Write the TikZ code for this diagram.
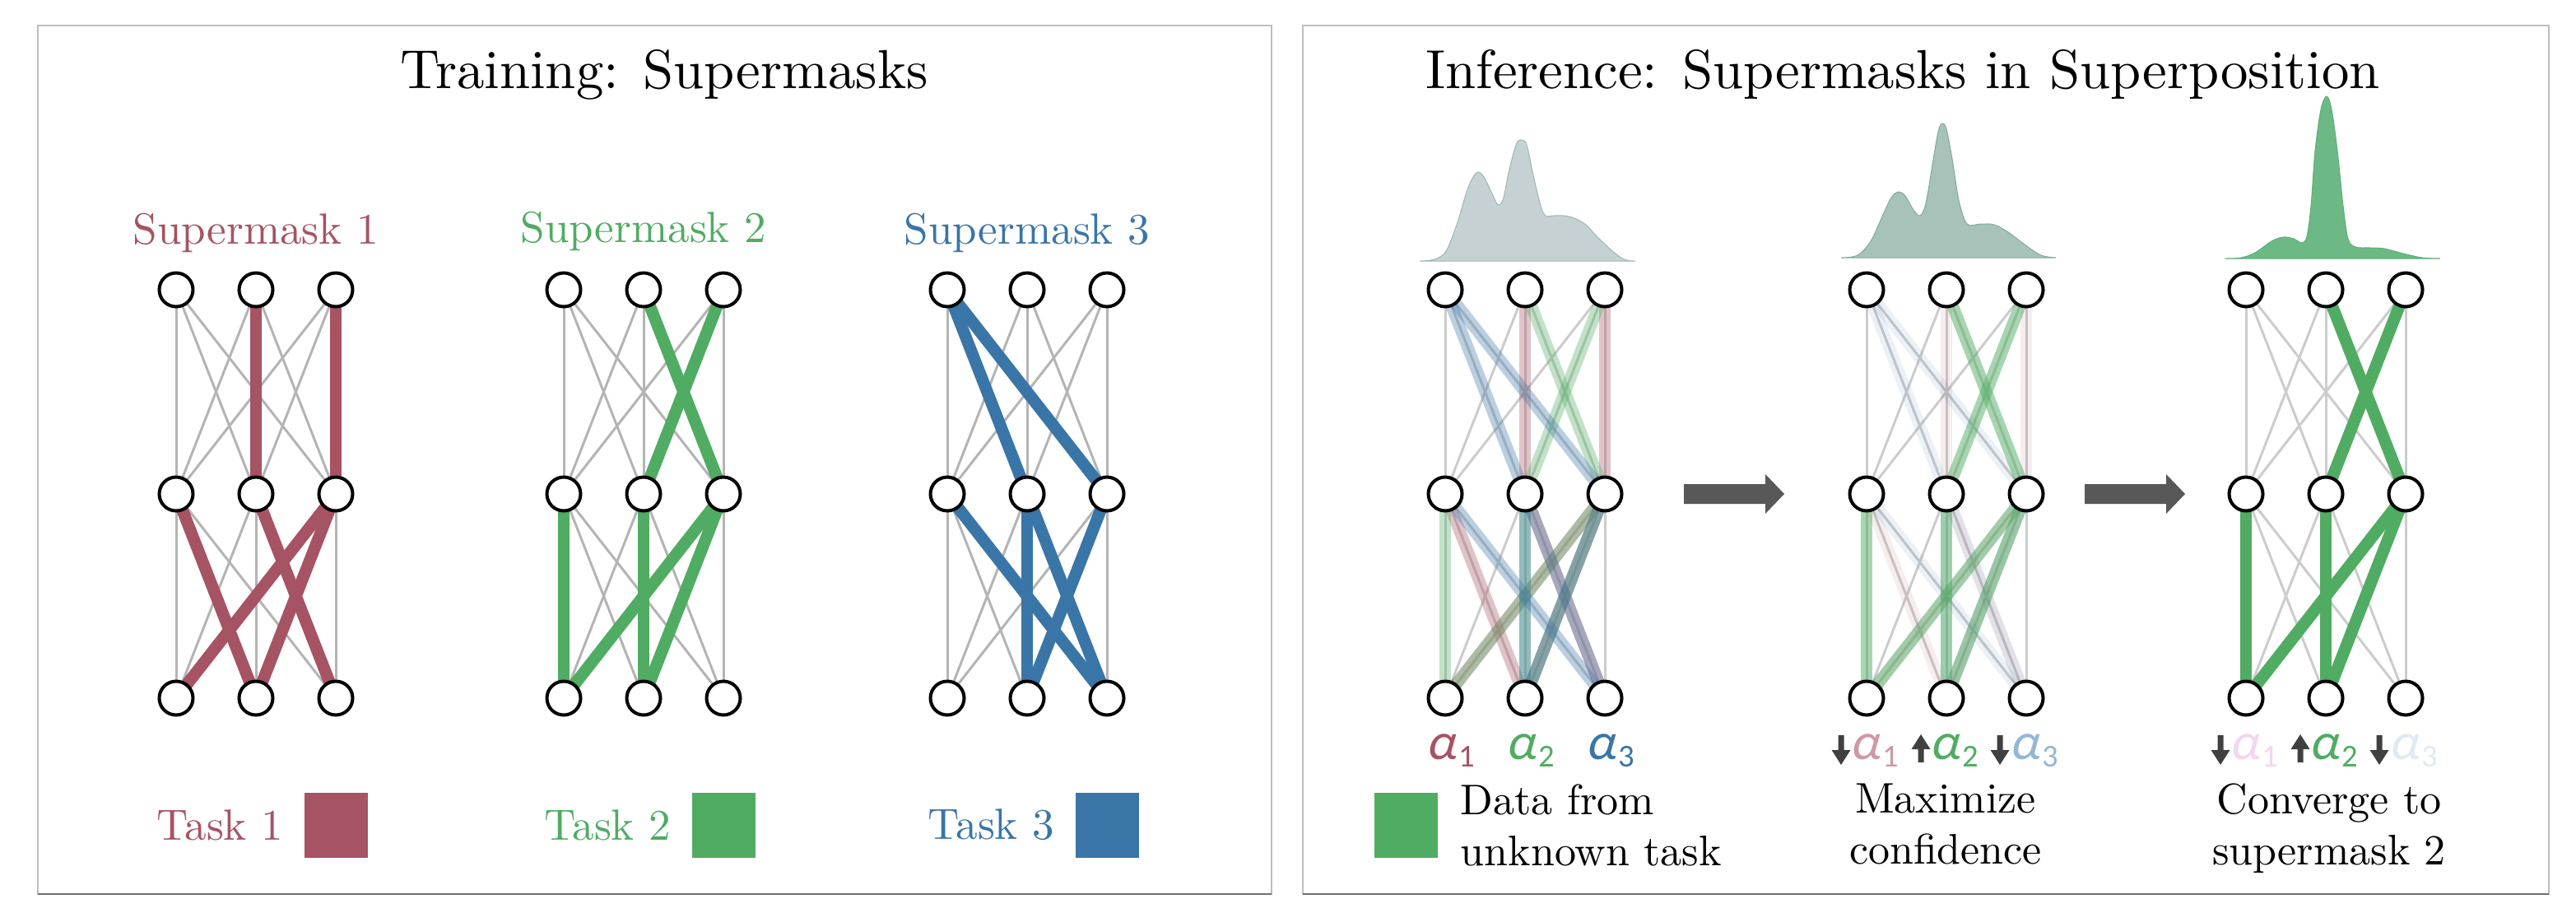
\documentclass[tikz,border=0pt]{standalone}
\usepackage{fontspec}
\setmainfont{lmroman10-regular.otf}
\newfontfamily\alphafont[FakeSlant=0.18]{Carlito}
\newfontfamily\subfont{Carlito}
\usetikzlibrary{positioning}
\usetikzlibrary{backgrounds}

\definecolor{maskred}{RGB}{166,83,99}
\definecolor{maskgreen}{RGB}{80,172,98}
\definecolor{maskblue}{RGB}{58,117,167}
\definecolor{fadered}{RGB}{206,152,164}
\definecolor{fadeblue}{RGB}{148,183,214}
\definecolor{palered}{RGB}{244,214,238}
\definecolor{paleblue}{RGB}{224,233,244}
\definecolor{edgegray}{RGB}{180,180,180}
\definecolor{edgelight}{RGB}{204,204,204}
\definecolor{boxgray}{RGB}{190,190,190}
\definecolor{boxdark}{RGB}{110,110,110}
\definecolor{arrowgray}{RGB}{88,88,88}
\definecolor{updowngray}{RGB}{64,64,64}
\definecolor{densa}{RGB}{197,209,210}
\definecolor{densaline}{RGB}{160,182,184}
\definecolor{densb}{RGB}{166,194,185}
\definecolor{densbline}{RGB}{130,170,155}
\definecolor{densc}{RGB}{108,185,134}
\definecolor{denscline}{RGB}{92,176,120}

% edges kept by each supermask
\newcommand{\maskone}{t2/m2, t3/m3, m1/b2, m2/b3, m3/b1, m3/b2}
\newcommand{\masktwo}{t2/m3, t3/m2, m1/b1, m2/b2, m3/b1, m3/b2}
\newcommand{\maskthree}{t1/m2, t1/m3, m1/b3, m2/b2, m2/b3, m3/b2}

\tikzset{
  neuron/.style={circle, draw=black, line width=0.04cm, fill=white, minimum size=0.41cm, inner sep=0pt},
  edge/.style={line width=0.03cm},
  maskedge/.style={line width=0.145cm},
  panel/.style={draw=boxgray, line width=0.02cm},
  title/.style={font=\fontsize{19}{23}\selectfont, inner sep=0pt},
  masklabel/.style={font=\fontsize{15.1}{18}\selectfont, inner sep=0pt},
  caption/.style={font=\fontsize{14.8}{17.6}\selectfont, align=center, inner sep=0pt},
  tasksq/.style={minimum width=0.77cm, minimum height=0.79cm, inner sep=0pt},
  alphalabel/.style={font=\alphafont\fontsize{18}{18}\selectfont, anchor=base, inner sep=0pt}
}

\begin{document}
\begin{tikzpicture}
  \useasboundingbox (0,0) rectangle (31.30,-11.08);

  % neurons
  \foreach \net/\x in {m1/2.14, m2/6.85, m3/11.51, ia/17.56, ib/22.68, ic/27.29} {
    \foreach \c in {1,2,3} {
      \node [neuron] (\net t\c) at ({\x+0.97*(\c-1)}, -3.52) {};
      \node [neuron] (\net m\c) at ({\x+0.97*(\c-1)}, -6.00) {};
      \node [neuron] (\net b\c) at ({\x+0.97*(\c-1)}, -8.48) {};
    }
  }

  \begin{scope}[on background layer]
    \draw [panel] (0.46,-0.31) rectangle (15.45,-10.86);
    \draw [panel] (15.83,-0.31) rectangle (30.97,-10.86);
    \draw [boxdark, line width=0.02cm] (0.46,-10.86) -- (15.45,-10.86);
    \draw [boxdark, line width=0.02cm] (15.83,-10.86) -- (30.97,-10.86);

    % all weights
    \foreach \net/\col in {m1/edgegray, m2/edgegray, m3/edgegray, ia/edgelight, ib/edgelight, ic/edgelight} {
      \foreach \i in {1,2,3} {
        \foreach \j in {1,2,3} {
          \draw [edge, \col] (\net t\i.center) -- (\net m\j.center);
          \draw [edge, \col] (\net m\i.center) -- (\net b\j.center);
        }
      }
    }

    % training: one supermask per task
    \foreach \a/\b in \maskone {\draw [maskedge, maskred] (m1\a.center) -- (m1\b.center);}
    \foreach \a/\b in \masktwo {\draw [maskedge, maskgreen] (m2\a.center) -- (m2\b.center);}
    \foreach \a/\b in \maskthree {\draw [maskedge, maskblue] (m3\a.center) -- (m3\b.center);}

    % inference: superposition
    \foreach \a/\b in \maskone {\draw [maskedge, maskred, opacity=0.35] (ia\a.center) -- (ia\b.center);}
    \foreach \a/\b in \masktwo {\draw [maskedge, maskgreen, opacity=0.35] (ia\a.center) -- (ia\b.center);}
    \foreach \a/\b in \maskthree {\draw [maskedge, maskblue, opacity=0.35] (ia\a.center) -- (ia\b.center);}

    \foreach \a/\b in \maskone {\draw [maskedge, maskred, opacity=0.1] (ib\a.center) -- (ib\b.center);}
    \foreach \a/\b in \maskthree {\draw [maskedge, maskblue, opacity=0.1] (ib\a.center) -- (ib\b.center);}
    \foreach \a/\b in \masktwo {\draw [maskedge, maskgreen, opacity=0.5] (ib\a.center) -- (ib\b.center);}

    \foreach \a/\b in \masktwo {\draw [maskedge, maskgreen] (ic\a.center) -- (ic\b.center);}
  \end{scope}

  % titles
  \node [title, anchor=base] (traintitle) at (8.07,-1.07) {Training: Supermasks};
  \node [title, anchor=base] (inftitle) at (23.12,-1.07) {Inference: Supermasks in Superposition};

  \node [masklabel, anchor=base, text=maskred] (sm1) at (3.11,-2.96) {Supermask 1};
  \node [masklabel, anchor=base, text=maskgreen] (sm2) at (7.82,-2.94) {Supermask 2};
  \node [masklabel, anchor=base, text=maskblue] (sm3) at (12.48,-2.96) {Supermask 3};

  % tasks
  \node [tasksq, fill=maskred] (sq1) at (4.08,-10.02) {};
  \node [tasksq, fill=maskgreen] (sq2) at (8.79,-10.02) {};
  \node [tasksq, fill=maskblue] (sq3) at (13.45,-10.02) {};
  \node [masklabel, text=maskred, left=0.24cm of sq1] (task1) {Task 1};
  \node [masklabel, text=maskgreen, left=0.24cm of sq2] (task2) {Task 2};
  \node [masklabel, text=maskblue, left=0.24cm of sq3] (task3) {Task 3};

  % output densities
  \filldraw [fill=densa, draw=densaline, line width=0.01cm] plot [smooth, tension=0.55] coordinates {
    (17.25,-3.17) (17.43,-3.15) (17.57,-3.05) (17.70,-2.73) (17.82,-2.33) (17.90,-2.15) (17.96,-2.09)
    (18.03,-2.15) (18.12,-2.33) (18.18,-2.46) (18.22,-2.49) (18.27,-2.40) (18.33,-2.10) (18.42,-1.76)
    (18.48,-1.70) (18.55,-1.76) (18.63,-2.13) (18.72,-2.50) (18.78,-2.62) (18.88,-2.62) (19.00,-2.62)
    (19.13,-2.65) (19.27,-2.73) (19.40,-2.87) (19.57,-3.03) (19.73,-3.15) (19.87,-3.17)} -- cycle;
  \filldraw [fill=densb, draw=densbline, line width=0.01cm] plot [smooth, tension=0.55] coordinates {
    (22.37,-3.13) (22.57,-3.10) (22.73,-2.93) (22.87,-2.63) (22.98,-2.40) (23.07,-2.33) (23.15,-2.38)
    (23.25,-2.55) (23.33,-2.62) (23.40,-2.47) (23.48,-2.00) (23.55,-1.60) (23.60,-1.50) (23.65,-1.57)
    (23.72,-1.93) (23.80,-2.43) (23.90,-2.72) (24.07,-2.72) (24.23,-2.73) (24.40,-2.82) (24.60,-2.97)
    (24.80,-3.10) (24.98,-3.13)} -- cycle;
  \filldraw [fill=densc, draw=denscline, line width=0.01cm] plot [smooth, tension=0.55] coordinates {
    (27.03,-3.14) (27.23,-3.13) (27.40,-3.07) (27.60,-2.93) (27.74,-2.88) (27.87,-2.90) (27.97,-2.95)
    (28.03,-2.87) (28.08,-2.50) (28.13,-1.83) (28.20,-1.33) (28.27,-1.17) (28.33,-1.33) (28.40,-1.83)
    (28.47,-2.50) (28.53,-2.90) (28.62,-3.00) (28.80,-3.01) (28.97,-3.02) (29.20,-3.08) (29.43,-3.13)
    (29.65,-3.14)} -- cycle;

  % steps
  \coordinate (ar1) at (20.46,-6.00);
  \coordinate (ar2) at (25.33,-6.00);
  \fill [arrowgray] (ar1) ++(0,0.12) -- ++(0.99,0) -- ++(0,0.12) -- ++(0.23,-0.24) -- ++(-0.23,-0.24) -- ++(0,0.12) -- ++(-0.99,0) -- cycle;
  \fill [arrowgray] (ar2) ++(0,0.12) -- ++(0.99,0) -- ++(0,0.12) -- ++(0.23,-0.24) -- ++(-0.23,-0.24) -- ++(0,0.12) -- ++(-0.99,0) -- cycle;

  % mixing coefficients
  \node [alphalabel, text=maskred] (ia-a1) at (17.63,-9.22) {α\kern0.03cm\raisebox{-0.09cm}{\subfont\fontsize{11}{11}\selectfont 1}};
  \node [alphalabel, text=maskgreen] (ia-a2) at (18.60,-9.22) {α\kern0.03cm\raisebox{-0.09cm}{\subfont\fontsize{11}{11}\selectfont 2}};
  \node [alphalabel, text=maskblue] (ia-a3) at (19.57,-9.22) {α\kern0.03cm\raisebox{-0.09cm}{\subfont\fontsize{11}{11}\selectfont 3}};

  \node [alphalabel, text=fadered] (ib-a1) at (22.78,-9.22) {α\kern0.03cm\raisebox{-0.09cm}{\subfont\fontsize{11}{11}\selectfont 1}};
  \node [alphalabel, text=maskgreen] (ib-a2) at (23.75,-9.22) {α\kern0.03cm\raisebox{-0.09cm}{\subfont\fontsize{11}{11}\selectfont 2}};
  \node [alphalabel, text=fadeblue] (ib-a3) at (24.72,-9.22) {α\kern0.03cm\raisebox{-0.09cm}{\subfont\fontsize{11}{11}\selectfont 3}};

  \node [alphalabel, text=palered] (ic-a1) at (27.39,-9.22) {α\kern0.03cm\raisebox{-0.09cm}{\subfont\fontsize{11}{11}\selectfont 1}};
  \node [alphalabel, text=maskgreen] (ic-a2) at (28.36,-9.22) {α\kern0.03cm\raisebox{-0.09cm}{\subfont\fontsize{11}{11}\selectfont 2}};
  \node [alphalabel, text=paleblue] (ic-a3) at (29.33,-9.22) {α\kern0.03cm\raisebox{-0.09cm}{\subfont\fontsize{11}{11}\selectfont 3}};

  % down / up
  \foreach \net in {ib, ic} {
    \path (\net b1) ++(-0.31,-0.45) coordinate (\net d1);
    \path (\net b3) ++(-0.32,-0.45) coordinate (\net d3);
    \path (\net b2) ++(-0.31,-0.78) coordinate (\net u2);
    \fill [updowngray] (\net d1) ++(-0.035,0) -- ++(0.07,0) -- ++(0,-0.18) -- ++(0.08,0) -- ++(-0.115,-0.18) -- ++(-0.115,0.18) -- ++(0.08,0) -- cycle;
    \fill [updowngray] (\net d3) ++(-0.035,0) -- ++(0.07,0) -- ++(0,-0.18) -- ++(0.08,0) -- ++(-0.115,-0.18) -- ++(-0.115,0.18) -- ++(0.08,0) -- cycle;
    \fill [updowngray] (\net u2) ++(-0.035,0) -- ++(0.07,0) -- ++(0,0.16) -- ++(0.08,0) -- ++(-0.115,0.18) -- ++(-0.115,-0.18) -- ++(0.08,0) -- cycle;
  }

  % captions
  \node [tasksq, fill=maskgreen] (datasq) at (17.08,-10.02) {};
  \node [caption, align=left, right=0.27cm of datasq] (datatxt) {Data from\\unknown task};
  \node [caption, anchor=north] (maxtxt) at (23.64,-9.515) {Maximize\\confidence};
  \node [caption, anchor=north] (convtxt) at (28.30,-9.515) {Converge to\\supermask 2};

\end{tikzpicture}
\end{document}
